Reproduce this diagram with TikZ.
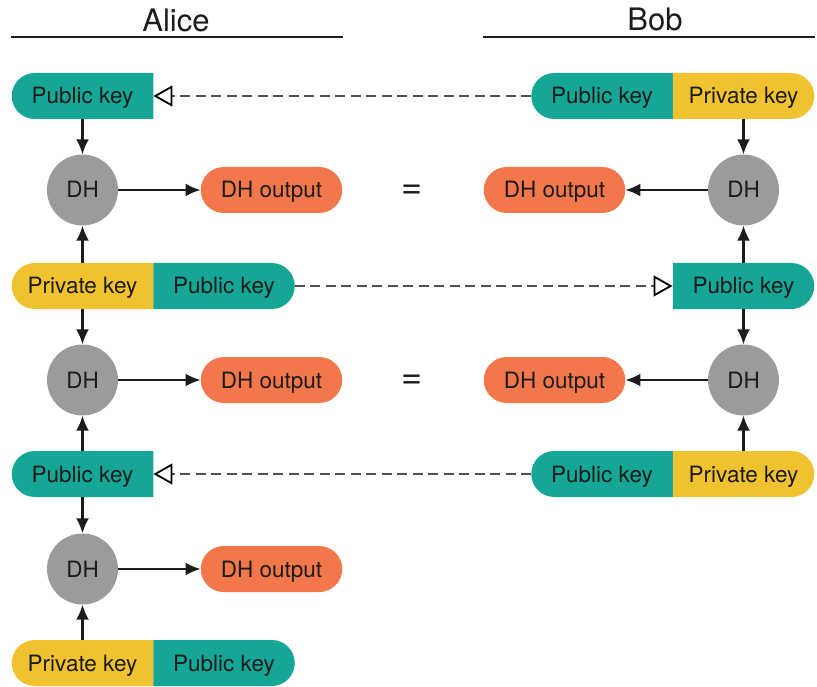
\documentclass[tikz,border=0pt]{standalone}
\usepackage{fontspec}
\setmainfont{TeX Gyre Heros}
\usetikzlibrary{arrows.meta}
\definecolor{tealk}{RGB}{22,166,150}
\definecolor{yellk}{RGB}{241,194,48}
\definecolor{orng}{RGB}{242,120,75}
\definecolor{grayc}{RGB}{155,155,155}
\definecolor{ink}{RGB}{28,28,28}
\definecolor{dashc}{RGB}{80,80,80}
\begin{document}
\begin{tikzpicture}[x=1pt,y=1pt,
  lbl/.style={font=\fontsize{22.5}{25}\selectfont, text=ink, text height=16pt, text depth=0pt},
  title/.style={font=\fontsize{31}{34}\selectfont, text=ink},
  eqs/.style={font=\fontsize{36}{38}\selectfont, text=ink},
  keybox/.style={lbl, rectangle, inner sep=0pt, minimum width=141.5pt, minimum height=46pt},
  lround/.style={keybox, path picture={\fill[#1] (path picture bounding box.north east) -- ([xshift=23pt]path picture bounding box.north west) arc[start angle=90,end angle=270,radius=23pt] -- (path picture bounding box.south east) -- cycle;}},
  rround/.style={keybox, path picture={\fill[#1] (path picture bounding box.north west) -- ([xshift=-23pt]path picture bounding box.north east) arc[start angle=90,end angle=-90,radius=23pt] -- (path picture bounding box.south west) -- cycle;}},
  outbox/.style={lbl, rectangle, rounded corners=23pt, fill=orng, inner sep=0pt, minimum width=141.5pt, minimum height=46pt},
  dh/.style={lbl, circle, fill=grayc, inner sep=0pt, minimum size=71pt},
  arr/.style={draw=ink, line width=2.2pt, -{Latex[length=15pt,width=13pt]}},
  dasharr/.style={draw=dashc, line width=2.4pt, dash pattern=on 10pt off 5.5pt, -{Triangle[open,length=19pt,width=21pt,line width=1.8pt,color=black]}},
  hline/.style={draw=ink, line width=2.6pt}
]
\useasboundingbox (0,0) rectangle (817,-687);
% titles
\node[title] (alice) at (176,-20) {Alice};
\node[title] (bob) at (655,-19) {Bob};
\coordinate (al1) at (11,-37); \coordinate (al2) at (343,-37);
\coordinate (bl1) at (483,-37); \coordinate (bl2) at (815,-37);
\draw[hline] (al1) -- (al2);
\draw[hline] (bl1) -- (bl2);
% row 1
\node[lround=tealk] (a1) at (82.5,-96) {Public key};
\node[lround=tealk] (b1p) at (602,-96) {Public key};
\node[rround=yellk] (b1s) at (743.5,-96) {Private key};
% row 2
\node[dh] (a2) at (82.5,-190) {DH};
\node[outbox] (a2o) at (271.5,-190) {DH output};
\node[eqs] (eq1) at (412,-192) {=};
\node[outbox] (b2o) at (554.5,-190) {DH output};
\node[dh] (b2) at (743.5,-190) {DH};
% row 3
\node[lround=yellk] (a3s) at (82.5,-286) {Private key};
\node[rround=tealk] (a3p) at (224,-286) {Public key};
\node[rround=tealk] (b3) at (743.5,-286) {Public key};
% row 4
\node[dh] (a4) at (82.5,-380) {DH};
\node[outbox] (a4o) at (271.5,-380) {DH output};
\node[eqs] (eq2) at (412,-382) {=};
\node[outbox] (b4o) at (554.5,-380) {DH output};
\node[dh] (b4) at (743.5,-380) {DH};
% row 5
\node[lround=tealk] (a5) at (82.5,-474) {Public key};
\node[lround=tealk] (b5p) at (602,-474) {Public key};
\node[rround=yellk] (b5s) at (743.5,-474) {Private key};
% row 6
\node[dh] (a6) at (82.5,-569) {DH};
\node[outbox] (a6o) at (271.5,-569) {DH output};
% row 7
\node[lround=yellk] (a7s) at (82.5,-663) {Private key};
\node[rround=tealk] (a7p) at (224,-663) {Public key};
% arrows Alice
\draw[arr] (a1) -- (a2);
\draw[arr] (a3s) -- (a2);
\draw[arr] (a3s) -- (a4);
\draw[arr] (a5) -- (a4);
\draw[arr] (a5) -- (a6);
\draw[arr] (a7s) -- (a6);
\draw[arr] (a2) -- (a2o);
\draw[arr] (a4) -- (a4o);
\draw[arr] (a6) -- (a6o);
% arrows Bob
\draw[arr] (b1s) -- (b2);
\draw[arr] (b3) -- (b2);
\draw[arr] (b3) -- (b4);
\draw[arr] (b5s) -- (b4);
\draw[arr] (b2) -- (b2o);
\draw[arr] (b4) -- (b4o);
% dashed exchanges
\draw[dasharr] (b1p) -- (a1);
\draw[dasharr] (a3p) -- (b3);
\draw[dasharr] (b5p) -- (a5);
\end{tikzpicture}
\end{document}
